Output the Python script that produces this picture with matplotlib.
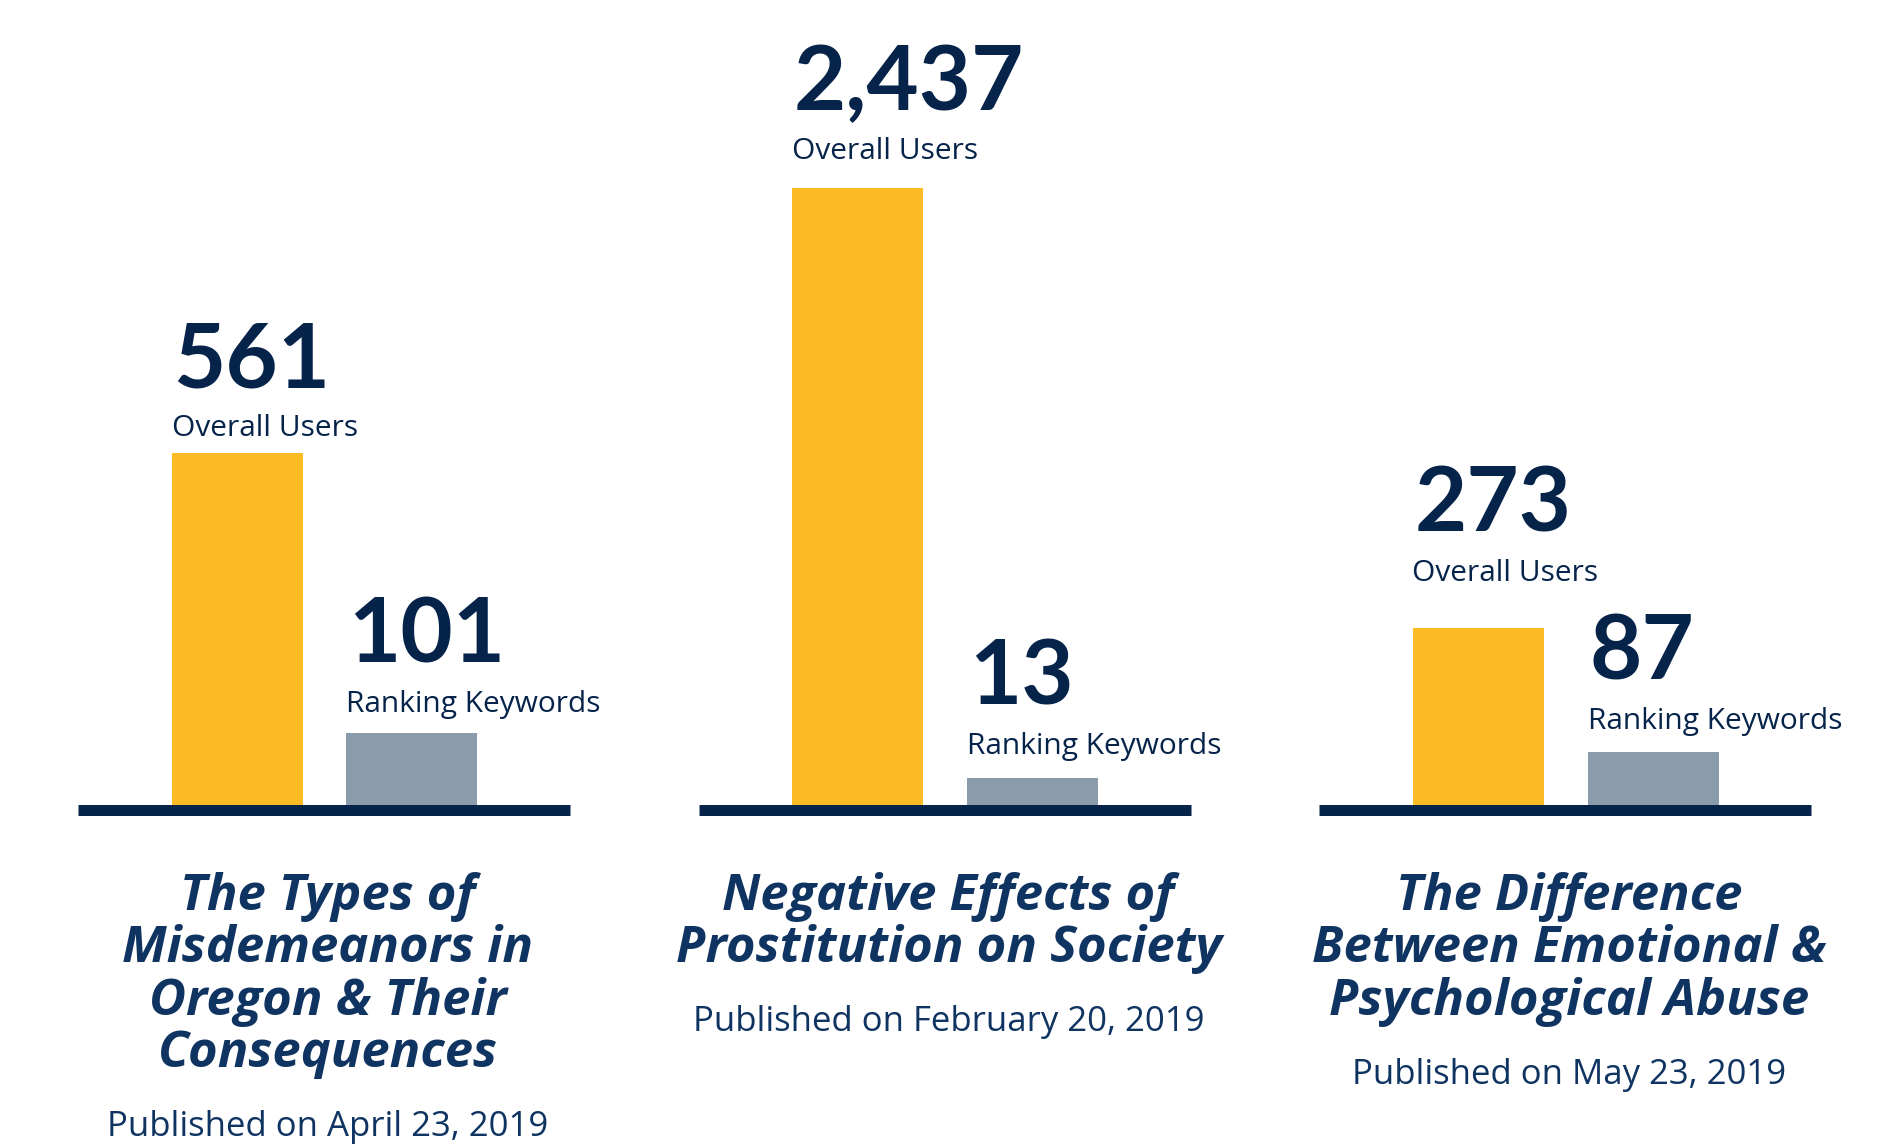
import matplotlib.pyplot as plt

W, H = 1880, 1148

titles = ["The Types of\nMisdemeanors in\nOregon & Their\nConsequences",
          "Negative Effects of\nProstitution on Society",
          "The Difference\nBetween Emotional &\nPsychological Abuse"]
dates = ["Published on April 23, 2019",
         "Published on February 20, 2019",
         "Published on May 23, 2019"]
overall_users = [561, 2437, 273]
ranking_keywords = [101, 13, 87]
# bar heights as drawn in the picture (they are not to scale with the numbers)
users_bar = [57.0, 100.0, 28.7]
keywords_bar = [11.7, 4.4, 8.6]

yellow = '#FDBB24'
grey = '#8A9BAB'
navy = '#06234A'
title_col = '#0F3461'

# gap (px) between bar top and the small label baseline
users_gap = [17, 29, 47]
keywords_gap = [21, 24, 23]

px_per_unit = 6.17
base_y = 805

fig = plt.figure(figsize=(W / 100, H / 100), dpi=100)

for i in range(3):
    left = 78 + i * 620.5
    ax = fig.add_axes([left / W, (H - base_y) / H, 492 / W, base_y / H])
    ax.set_xlim(0, 492)
    ax.set_ylim(0, base_y / px_per_unit)
    ax.axis('off')

    xs = [159, 334]
    hs = [users_bar[i], keywords_bar[i]]
    ax.bar(xs, hs, width=131, color=[yellow, grey])
    ax.plot([0, 492], [-5 / px_per_unit] * 2, color=navy, lw=11 * 0.72,
            solid_capstyle='butt', clip_on=False)

    nums = [overall_users[i], ranking_keywords[i]]
    names = ['Overall Users', 'Ranking Keywords']
    gaps = [users_gap[i], keywords_gap[i]]
    for x, h, n, name, g in zip(xs, hs, nums, names, gaps):
        bl = x - 65.5
        ax.annotate(name, xy=(bl, h), xytext=(0, g), textcoords='offset pixels',
                    ha='left', va='baseline', fontsize=21.5, family='Open Sans',
                    color=navy, annotation_clip=False)
        ax.annotate(f"{n:,}", xy=(bl, h), xytext=(2, g + 49), textcoords='offset pixels',
                    ha='left', va='baseline', fontsize=65, family='Lato',
                    fontweight='bold', color=navy, annotation_clip=False)

    cx = left + 250
    lines = titles[i].split('\n')
    for j, line in enumerate(lines):
        y = 892 + j * 52.4 + 18
        fig.text(cx / W, 1 - y / H, line, ha='center', va='baseline',
                 fontsize=36.5, family='Open Sans', fontweight='bold', style='italic',
                 color=title_col)
    dy = 892 + (len(lines) - 1) * 52.4 + 74 + 13
    fig.text(cx / W, 1 - dy / H, dates[i], ha='center', va='baseline',
             fontsize=25, family='Open Sans', color=title_col)

fig.savefig('out.png', dpi=100, facecolor='white')
